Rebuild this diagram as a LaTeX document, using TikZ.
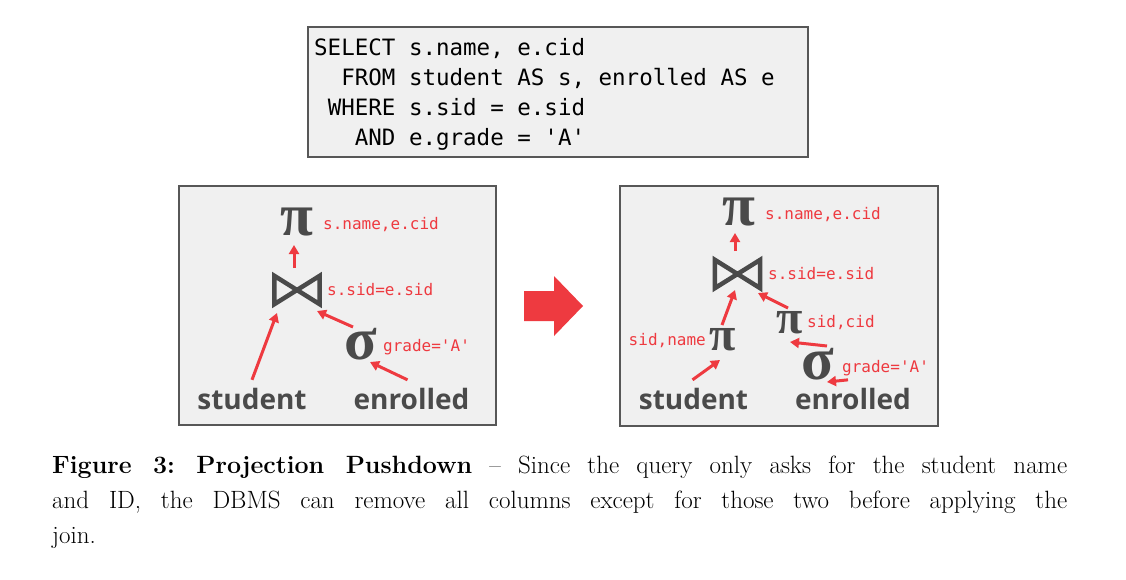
\documentclass[tikz,border=0pt]{standalone}
\usepackage{fontspec}
\setmonofont{DejaVu Sans Mono}
\newfontfamily\opfont{Liberation Serif}
\newfontfamily\relfont{Open Sans}
\usetikzlibrary{arrows.meta}
\definecolor{boxgray}{HTML}{F0F0F0}
\definecolor{rimgray}{HTML}{575757}
\definecolor{inkgray}{HTML}{4A4A4A}
\definecolor{arrred}{HTML}{EE3A40}
\tikzset{
  panel/.style={draw=rimgray, fill=boxgray, line width=2.8pt},
  op/.style={inner sep=0pt, text=inkgray, font=\opfont\fontsize{60}{60}\selectfont\bfseries},
  smallop/.style={op, font=\opfont\fontsize{48}{48}\selectfont\bfseries},
  joinop/.style={inner sep=0pt, minimum width=45pt, minimum height=28pt},
  bowtie/.style={draw=inkgray, line width=4.5pt, line join=miter},
  cond/.style={inner sep=0pt, anchor=base west, text=arrred, font=\ttfamily\fontsize{16}{16}\selectfont},
  rel/.style={inner sep=0pt, anchor=base, text=inkgray, font=\relfont\bfseries\fontsize{28}{28}\selectfont},
  flow/.style={draw=arrred, line width=3pt, -{Triangle[length=9pt,width=10pt]}}
}
\begin{document}
\begin{tikzpicture}[x=1pt,y=-1pt]
\useasboundingbox[fill=white] (0,0) rectangle (1126,579);
% requete SQL
\draw[panel] (308,27) rectangle (808,157);
\node[inner sep=0pt, anchor=base west, font=\ttfamily\fontsize{22.5}{30.3}\selectfont] (sql) at (314,55)
  {\begin{tabular}[t]{@{}r@{ }l@{}}SELECT & s.name, e.cid\\ FROM & student AS s, enrolled AS e\\ WHERE & s.sid = e.sid\\ AND & e.grade = 'A'\end{tabular}};
% plan de gauche
\draw[panel] (179,186) rectangle (496,425);
\node[op] (pi1) at (297,222) {π};
\node[joinop] (join1) at (297,290) {};
\draw[bowtie] (join1.north west) -- (join1.south east) -- (join1.north east) -- (join1.south west) -- cycle;
\node[op] (sigma1) at (361,344) {σ};
\node[rel] (student1) at (252,409.3) {student};
\node[rel] (enrolled1) at (411.5,409.3) {enrolled};
\node[cond] (pc1) at (323,229) {s.name,e.cid};
\node[cond] (jc1) at (327,295.7) {s.sid=e.sid};
\node[cond] (sc1) at (383,351.5) {grade='A'};
\draw[flow] ([shift={(-3,-22)}]join1.center) -- ([shift={(-3,23)}]pi1.center);
\draw[flow] ([shift={(0,-8)}]student1.north) -- ([shift={(-20,23)}]join1.center);
\draw[flow] ([shift={(-8,-17)}]sigma1.center) -- ([shift={(20,21)}]join1.center);
\draw[flow] ([shift={(-4,-8)}]enrolled1.north) -- ([shift={(9,18)}]sigma1.center);
% grosse fleche
\fill[arrred] (524,291) -- (554,291) -- (554,276) -- (583,306) -- (554,336) -- (554,321) -- (524,321) -- cycle;
% plan de droite
\draw[panel] (620,186) rectangle (938,426);
\node[op] (pi2) at (739,212) {π};
\node[joinop] (join2) at (737.5,274) {};
\draw[bowtie] (join2.north west) -- (join2.south east) -- (join2.north east) -- (join2.south west) -- cycle;
\node[smallop] (piL) at (722.5,340) {π};
\node[smallop] (piR) at (790,323) {π};
\node[op] (sigma2) at (818,364) {σ};
\node[rel] (student2) at (693.5,409.3) {student};
\node[rel] (enrolled2) at (853,409.3) {enrolled};
\node[cond] (pc2) at (765,219.3) {s.name,e.cid};
\node[cond] (jc2) at (768,279) {s.sid=e.sid};
\node[cond, anchor=base east] (lc2) at (706,345) {sid,name};
\node[cond] (rc2) at (807,327.7) {sid,cid};
\node[cond] (sc2) at (842,372.7) {grade='A'};
\draw[flow] ([shift={(-2.5,-23)}]join2.center) -- ([shift={(-4,21)}]pi2.center);
\draw[flow] ([shift={(-0.5,-15)}]piL.center) -- ([shift={(-2.5,16)}]join2.center);
\draw[flow] ([shift={(-2,-15)}]piR.center) -- ([shift={(20.5,19)}]join2.center);
\draw[flow] ([shift={(9,-18)}]sigma2.center) -- ([shift={(0,19)}]piR.center);
\draw[flow] ([shift={(-5,-8)}]enrolled2.north) -- ([shift={(9,18)}]sigma2.center);
\draw[flow] ([shift={(-1,-8)}]student2.north) -- ([shift={(-2.5,20)}]piL.center);
% legende
\node[inner sep=0pt, anchor=base west, font=\fontsize{25}{35}\selectfont] (caption) at (52,473)
  {\parbox[t]{1015pt}{\frenchspacing\textbf{Figure 3: Projection Pushdown} -- Since the query only asks for the student name\linebreak
  and ID, the DBMS can remove all columns except for those two before applying the\linebreak join.}};
\end{tikzpicture}
\end{document}
